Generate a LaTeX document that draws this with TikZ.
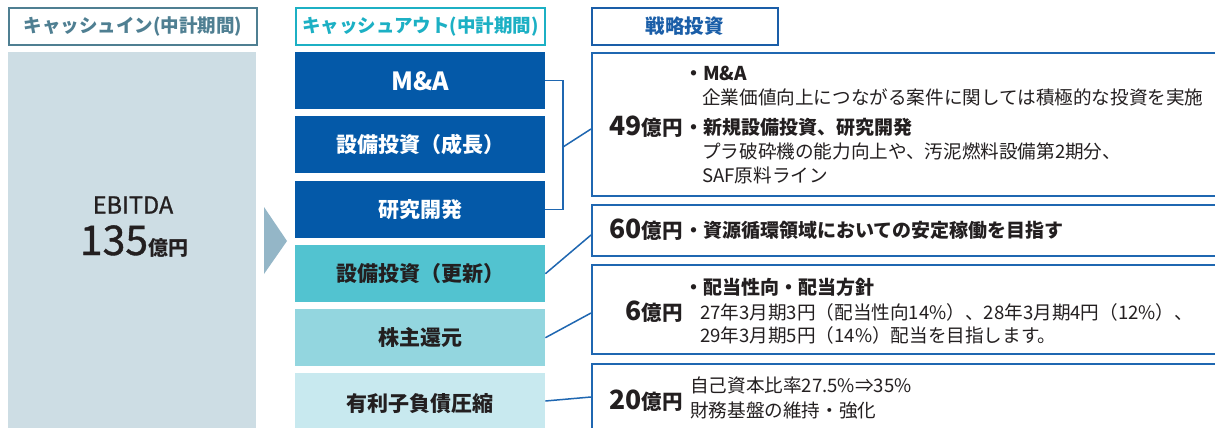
\documentclass[tikz,border=0pt]{standalone}
\usepackage{fontspec}
\setmainfont{Noto Sans CJK JP}
\newfontfamily\mediumfont[FakeBold=1]{Noto Sans CJK JP}
\usetikzlibrary{calc}
\definecolor{ink}{HTML}{231F20}
\definecolor{grayfill}{HTML}{CDDDE4}
\definecolor{trifill}{HTML}{94B6C7}
\definecolor{dblue}{HTML}{0459A8}
\definecolor{teal}{HTML}{52C3D0}
\definecolor{lteal}{HTML}{93D6DF}
\definecolor{vlteal}{HTML}{C8E9EF}
\definecolor{lineblue}{HTML}{1F67B1}
\definecolor{hdrone}{HTML}{4F7F92}
\definecolor{hdrtwo}{HTML}{1CB0C4}
\definecolor{hdrthree}{HTML}{1A5EA8}
\tikzset{
  hdr/.style={draw, line width=1.8pt, inner sep=0, minimum height=37pt, anchor=north west,
    font=\fontsize{18.5}{20}\selectfont\bfseries},
  outb/.style={inner sep=0, minimum width=250pt, minimum height=57pt, anchor=north west,
    font=\fontsize{21}{24}\selectfont\bfseries},
  rbox/.style={draw=lineblue, line width=2pt, inner sep=0, minimum width=640pt, anchor=north west},
  body/.style={anchor=west, inner sep=0, text=ink, font=\fontsize{18.6}{22}\selectfont},
  bodyb/.style={anchor=west, inner sep=0, text=ink, font=\fontsize{19}{22}\selectfont\bfseries},
  amount/.style={anchor=east, inner sep=0, text=ink, font=\bfseries},
  conn/.style={draw=lineblue, line width=1.5pt}
}
\begin{document}
\begin{tikzpicture}[x=1pt,y=-1pt]
\useasboundingbox (0,0) rectangle (1215,428);
\clip (0,0) rectangle (1215,428);
\fill[white] (0,0) rectangle (1215,428);
% headers
\node[hdr, draw=hdrone, text=hdrone, minimum width=248pt] (h1) at (8,7) {キャッシュイン(中計期間)};
\node[hdr, draw=hdrtwo, text=hdrtwo, minimum width=249pt] (h2) at (295,7) {キャッシュアウト(中計期間)};
\node[hdr, draw=hdrthree, text=hdrthree, minimum width=186pt, font=\fontsize{19.5}{21}\selectfont\bfseries] (h3) at (591,7) {戦略投資};
% cash in
\node[fill=grayfill, inner sep=0, minimum width=248pt, minimum height=376pt, anchor=north west] (cin) at (8,52) {};
\node[inner sep=0, text=ink, font=\fontsize{23.5}{24}\mediumfont] (ebitda) at (133,205) {EBITDA};
\node[inner sep=0, text=ink, anchor=base] (total) at (134,255) {{\fontsize{41}{44}\mediumfont 135}{\fontsize{20}{22}\selectfont\bfseries 億円}};
\fill[trifill] (264,207) -- (287,241) -- (264,274) -- cycle;
% cash out
\node[outb, fill=dblue, text=white, font=\fontsize{25}{26}\selectfont\bfseries] (ma) at (295,52) {M\&A};
\node[outb, fill=dblue, text=white] (grow) at (295,116) {設備投資（成長）};
\node[outb, fill=dblue, text=white] (rd) at (295,181) {研究開発};
\node[outb, fill=teal, text=ink] (upd) at (295,245) {設備投資（更新）};
\node[outb, fill=lteal, text=ink] (sh) at (295,309) {株主還元};
\node[outb, fill=vlteal, text=ink, minimum height=60pt] (debt) at (295,373) {有利子負債圧縮};
% right boxes
\node[rbox, minimum height=143pt] (b49) at (591,52) {};
\node[rbox, minimum height=51pt] (b60) at (591,204) {};
\node[rbox, minimum height=89pt] (b6) at (591,264) {};
\node[rbox, minimum height=80pt] (b20) at (591,363) {};
% connectors
\coordinate (j1) at (563,147);
\coordinate (e49) at (591,129);
\coordinate (e60) at (591,235);
\coordinate (e6) at (591,313);
\coordinate (e20) at (591,397);
\draw[conn] (ma.east) -| (j1) |- (rd.east);
\draw[conn] (j1) -- (e49);
\draw[conn] (upd.east) -- (e60);
\draw[conn] (sh.east) -- (e6);
\draw[conn] (debt.east |- 0,401) -- (e20);
% texts 49
\node[amount] (a49) at (683,127) {{\fontsize{26.5}{26}\selectfont 49}{\fontsize{20.5}{22}\selectfont 億円}};
\node[bodyb] (t1) at (684,73) {・M\&A};
\node[body] (t2) at (702,97) {企業価値向上につながる案件に関しては積極的な投資を実施};
\node[bodyb] (t3) at (684,127) {・新規設備投資、研究開発};
\node[body] (t4) at (702,151) {プラ破砕機の能力向上や、汚泥燃料設備第2期分、};
\node[body] (t5) at (702,175) {SAF原料ライン};
% 60
\node[amount] (a60) at (683,230) {{\fontsize{26.5}{26}\selectfont 60}{\fontsize{20.5}{22}\selectfont 億円}};
\node[bodyb] (t6) at (684,230) {・資源循環領域においての安定稼働を目指す};
% 6
\node[amount] (a6) at (683,312) {{\fontsize{26.5}{26}\selectfont 6}{\fontsize{20.5}{22}\selectfont 億円}};
\node[bodyb] (t7) at (684,287) {・配当性向・配当方針};
\node[body] (t8) at (700,312) {27年3月期3円（配当性向14\%）、28年3月期4円（12\%）、};
\node[body] (t9) at (700,335) {29年3月期5円（14\%）配当を目指します。};
% 20
\node[amount] (a20) at (683,401) {{\fontsize{26.5}{26}\selectfont 20}{\fontsize{20.5}{22}\selectfont 億円}};
\node[body] (t10) at (690,385) {自己資本比率27.5\%⇒35\%};
\node[body] (t11) at (690,410) {財務基盤の維持・強化};
\end{tikzpicture}
\end{document}
